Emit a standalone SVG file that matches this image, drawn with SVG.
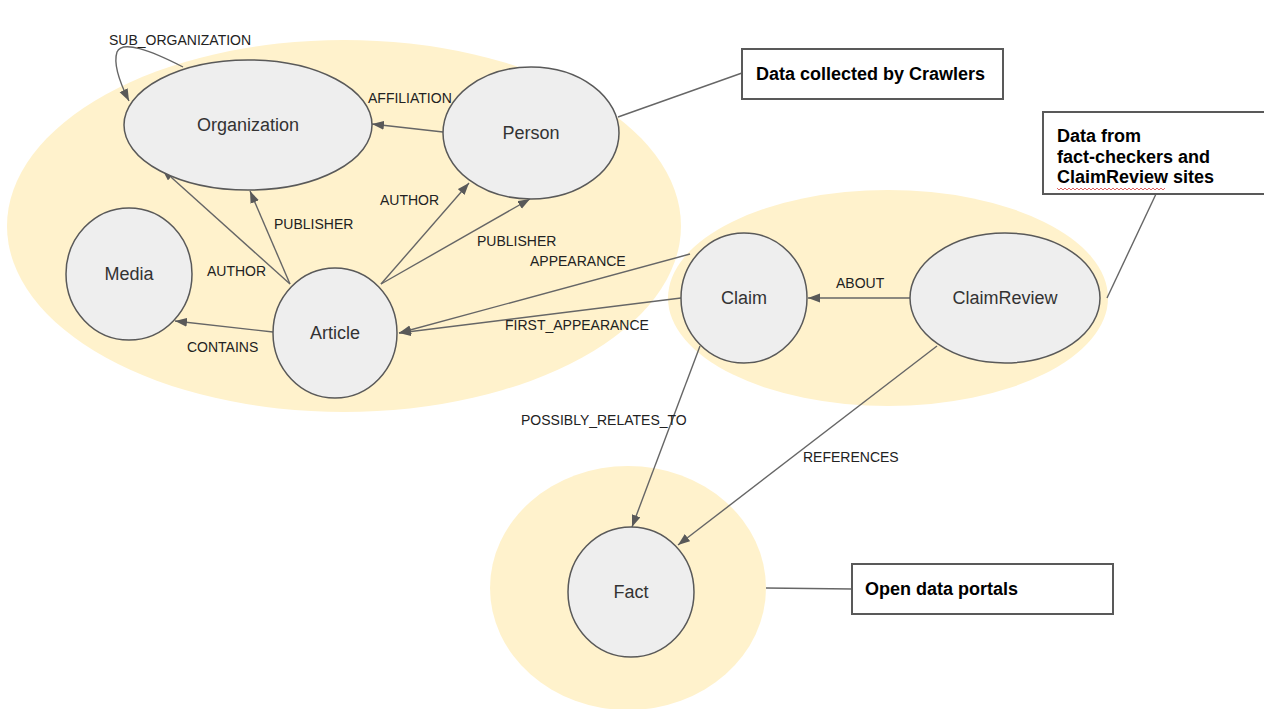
<svg xmlns="http://www.w3.org/2000/svg" width="1264" height="709" viewBox="0 0 1264 709">
<defs>
<marker id="arr" markerUnits="userSpaceOnUse" markerWidth="13" markerHeight="10" refX="12" refY="4.5" orient="auto">
<path d="M0,0 L12,4.5 L0,9 z" fill="#595959"/>
</marker>
<style>
.bg{fill:#fff2cc;stroke:none}
.node{fill:#eeeeee;stroke:#595959;stroke-width:1.5}
.nt{font-family:"Liberation Sans",Arial,sans-serif;font-size:18px;fill:#333;text-anchor:middle;dominant-baseline:central}
.edge{fill:none;stroke:#666;stroke-width:1.4}
.arrow{marker-end:url(#arr)}
.lbl{font-family:"Liberation Sans",Arial,sans-serif;font-size:14px;fill:#222}
.box{fill:#fff;stroke:#595959;stroke-width:2}
.bt{font-family:"Liberation Sans",Arial,sans-serif;font-size:18px;font-weight:bold;fill:#000}
</style>
</defs>
<rect width="1264" height="709" fill="#fff"/>
<g id="backgrounds">
<ellipse class="bg" cx="344" cy="226" rx="337" ry="186"/>
<ellipse class="bg" cx="888" cy="298" rx="220" ry="108"/>
<ellipse class="bg" cx="628" cy="588" rx="138" ry="122"/>
</g>
<g id="connectors">
<path class="edge arrow" d="M183,67 C150,50 122,40 117,52 C113,64 121,85 129,101"/>
<line class="edge arrow" x1="443" y1="132" x2="372" y2="124"/>
<line class="edge arrow" x1="290" y1="284" x2="162" y2="169"/>
<line class="edge arrow" x1="290" y1="284" x2="250" y2="191"/>
<line class="edge arrow" x1="381" y1="284" x2="469" y2="183"/>
<line class="edge arrow" x1="381" y1="284" x2="530" y2="199"/>
<line class="edge arrow" x1="690" y1="254" x2="399" y2="333"/>
<line class="edge arrow" x1="681" y1="298" x2="399" y2="333"/>
<line class="edge arrow" x1="273" y1="332" x2="175" y2="321"/>
<line class="edge arrow" x1="910" y1="298" x2="808" y2="298"/>
<line class="edge arrow" x1="700" y1="346" x2="632" y2="527"/>
<line class="edge arrow" x1="937" y1="346" x2="678" y2="545"/>
<line class="edge" x1="742" y1="73" x2="618" y2="117"/>
<line class="edge" x1="1156" y1="194" x2="1107" y2="298"/>
<line class="edge" x1="766" y1="588" x2="852" y2="589"/>
<g id="edge-labels">
<text class="lbl" x="109" y="45">SUB_ORGANIZATION</text>
<text class="lbl" x="368" y="103">AFFILIATION</text>
<text class="lbl" x="207" y="276">AUTHOR</text>
<text class="lbl" x="274" y="229">PUBLISHER</text>
<text class="lbl" x="380" y="205">AUTHOR</text>
<text class="lbl" x="477" y="246">PUBLISHER</text>
<text class="lbl" x="530" y="266">APPEARANCE</text>
<text class="lbl" x="505" y="330">FIRST_APPEARANCE</text>
<text class="lbl" x="187" y="352">CONTAINS</text>
<text class="lbl" x="836" y="288">ABOUT</text>
<text class="lbl" x="521" y="425">POSSIBLY_RELATES_TO</text>
<text class="lbl" x="803" y="462">REFERENCES</text>
</g>
</g>
<g id="organization"><ellipse class="node" cx="248" cy="125" rx="124" ry="65"/><text class="nt" x="248" y="125">Organization</text></g>
<g id="person"><ellipse class="node" cx="531" cy="133" rx="88" ry="66"/><text class="nt" x="531" y="133">Person</text></g>
<g id="media"><ellipse class="node" cx="129" cy="274" rx="63" ry="66"/><text class="nt" x="129" y="274">Media</text></g>
<g id="article"><ellipse class="node" cx="335" cy="333" rx="62" ry="65"/><text class="nt" x="335" y="333">Article</text></g>
<g id="claim"><ellipse class="node" cx="744" cy="298" rx="63" ry="65"/><text class="nt" x="744" y="298">Claim</text></g>
<g id="claimreview"><ellipse class="node" cx="1005" cy="298" rx="95" ry="65"/><text class="nt" x="1005" y="298">ClaimReview</text></g>
<g id="fact"><ellipse class="node" cx="631" cy="592" rx="63" ry="65"/><text class="nt" x="631" y="592">Fact</text></g>
<g id="note-crawlers"><rect class="box" x="742" y="49" width="261" height="50"/><text class="bt" x="756" y="80">Data collected by Crawlers</text></g>
<g id="note-factcheckers"><rect class="box" x="1043" y="112" width="225" height="82"/>
<text class="bt" x="1057" y="142">Data from</text>
<text class="bt" x="1057" y="163">fact-checkers and</text>
<text class="bt" x="1057" y="183">ClaimReview sites</text>
<polyline fill="none" stroke="#e06666" stroke-width="1" points="1057,188 1059,190 1061,188 1063,190 1065,188 1067,190 1069,188 1071,190 1073,188 1075,190 1077,188 1079,190 1081,188 1083,190 1085,188 1087,190 1089,188 1091,190 1093,188 1095,190 1097,188 1099,190 1101,188 1103,190 1105,188 1107,190 1109,188 1111,190 1113,188 1115,190 1117,188 1119,190 1121,188 1123,190 1125,188 1127,190 1129,188 1131,190 1133,188 1135,190 1137,188 1139,190 1141,188 1143,190 1145,188 1147,190 1149,188 1151,190 1153,188 1155,190 1157,188 1159,190 1161,188 1163,190 1165,188"/>
</g>
<g id="note-opendata"><rect class="box" x="852" y="564" width="261" height="50"/><text class="bt" x="865" y="595">Open data portals</text></g>
</svg>
